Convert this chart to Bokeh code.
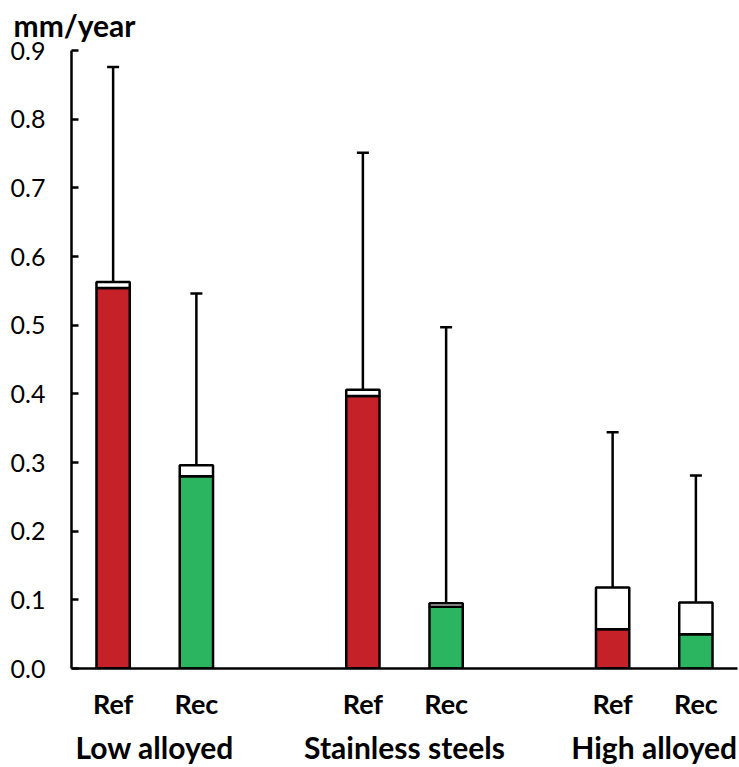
from bokeh.plotting import figure
from bokeh.models import (Range1d, FixedTicker, LinearAxis, Whisker, TeeHead,
                          ColumnDataSource, NumeralTickFormatter)
from bokeh.embed import file_html
from bokeh.resources import INLINE

# ---- data ----
groups = ["Low alloyed", "Stainless steels", "High alloyed"]
series = ["Ref", "Rec"]
colors = ["#C42128", "#2CB560"]
# lower (coloured) part of each bar
ref_low = [0.554, 0.397, 0.057]
rec_low = [0.280, 0.090, 0.050]
# total height of bar (top of white part)
ref_total = [0.563, 0.406, 0.118]
rec_total = [0.296, 0.095, 0.096]
# top of error bar
ref_upper = [0.876, 0.751, 0.344]
rec_upper = [0.546, 0.497, 0.281]
y_ticks = [0.0, 0.1, 0.2, 0.3, 0.4, 0.5, 0.6, 0.7, 0.8, 0.9]

FONT = "Lato"

p = figure(width=739, height=767, x_range=Range1d(0, 8), y_range=Range1d(0, 0.9),
           output_backend="svg", toolbar_location=None,
           min_border_left=71, min_border_right=2, min_border_top=50, min_border_bottom=0)
p.outline_line_color = None
p.grid.visible = False
p.background_fill_color = "white"

lows = [ref_low, rec_low]
totals = [ref_total, rec_total]
uppers = [ref_upper, rec_upper]

for s_i, s_name in enumerate(series):
    xs = [g_i * 3 + s_i + 0.5 for g_i in range(len(groups))]
    src = ColumnDataSource(dict(x=xs, low=lows[s_i], total=totals[s_i], upper=uppers[s_i]))
    p.vbar(x="x", bottom=0, top="low", width=0.4, source=src,
           fill_color=colors[s_i], line_color="black", line_width=2.5)
    p.vbar(x="x", bottom="low", top="total", width=0.4, source=src,
           fill_color="white", line_color="black", line_width=2.5)
    w = Whisker(source=src, base="x", lower="total", upper="upper", dimension="height",
                line_color="black", line_width=2.5,
                upper_head=TeeHead(size=12, line_color="black", line_width=2.5),
                lower_head=None)
    p.add_layout(w)

# y axis
ya = p.yaxis[0]
ya.ticker = FixedTicker(ticks=y_ticks)
ya.formatter = NumeralTickFormatter(format="0.0")
ya.major_tick_in = 7
ya.major_tick_out = 0
ya.minor_tick_line_color = None
ya.axis_line_width = 2.5
ya.major_tick_line_width = 2.5
ya.axis_line_color = "black"
ya.major_tick_line_color = "black"
ya.major_label_text_font = FONT
ya.major_label_text_font_size = "25px"
ya.major_label_text_color = "black"
ya.major_label_standoff = 26

# x axis (series labels)
xa = p.xaxis[0]
sub_ticks = []
sub_over = {}
for g_i in range(len(groups)):
    for s_i, s_name in enumerate(series):
        t = g_i * 3 + s_i + 0.5
        sub_ticks.append(t)
        sub_over[t] = s_name
xa.ticker = FixedTicker(ticks=sub_ticks)
xa.major_label_overrides = sub_over
xa.major_tick_line_color = None
xa.minor_tick_line_color = None
xa.axis_line_width = 2.5
xa.axis_line_color = "black"
xa.major_label_text_font = FONT
xa.major_label_text_font_style = "bold"
xa.major_label_text_font_size = "27px"
xa.major_label_text_color = "black"
xa.major_label_standoff = 12

# second x axis (group labels)
g_ticks = [g_i * 3 + 1 for g_i in range(len(groups))]
ga = LinearAxis(ticker=FixedTicker(ticks=g_ticks),
                major_label_overrides={t: g for t, g in zip(g_ticks, groups)})
ga.axis_line_color = None
ga.major_tick_line_color = None
ga.minor_tick_line_color = None
ga.major_label_text_font = FONT
ga.major_label_text_font_style = "bold"
ga.major_label_text_font_size = "30px"
ga.major_label_text_color = "black"
ga.major_label_standoff = 0
p.add_layout(ga, "below")

# title
p.title.text = "mm/year"
p.title.align = "left"
p.title.vertical_align = "top"
p.title.offset = -58
p.title.text_font = FONT
p.title.text_font_style = "bold"
p.title.text_font_size = "30px"
p.title.text_color = "black"
p.title.standoff = 12

open("out.html", "w").write(file_html(p, INLINE))
